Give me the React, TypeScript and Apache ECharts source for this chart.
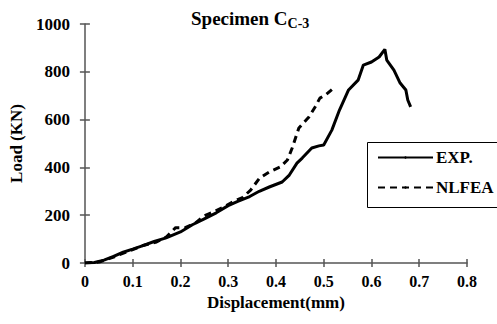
import React, { useEffect, useRef } from "react";
import * as echarts from "echarts";

const expX = [0, 0.02, 0.04, 0.06, 0.08, 0.1, 0.12, 0.145, 0.17, 0.2, 0.225, 0.25, 0.275, 0.3, 0.32, 0.345, 0.365, 0.386, 0.413, 0.428, 0.444, 0.455, 0.475, 0.49, 0.5, 0.517, 0.533, 0.552, 0.572, 0.583, 0.6, 0.616, 0.628, 0.632, 0.647, 0.66, 0.672, 0.676, 0.682];
const expY = [0, 2, 12, 28, 45, 58, 72, 90, 105, 130, 160, 185, 210, 240, 258, 278, 300, 318, 339, 368, 418, 439, 481, 490, 494, 556, 640, 724, 765, 828, 841, 862, 894, 849, 807, 753, 724, 682, 653];

const nlfeaX = [0, 0.03, 0.06, 0.09, 0.12, 0.15, 0.17, 0.19, 0.21, 0.23, 0.25, 0.27, 0.29, 0.31, 0.33, 0.347, 0.366, 0.386, 0.409, 0.424, 0.434, 0.448, 0.469, 0.482, 0.492, 0.505, 0.521];
const nlfeaY = [0, 4, 25, 48, 72, 88, 108, 148, 148, 165, 198, 214, 234, 256, 274, 305, 356, 381, 402, 431, 481, 565, 611, 653, 690, 705, 732];

const xTicks = [0, 0.8, 0.1];
const yTicks = [0, 1000, 200];

const FONT = "serif";

export default function App() {
  const ref = useRef<HTMLDivElement>(null);
  useEffect(() => {
    if (!ref.current) return;
    const chart = echarts.init(ref.current, undefined, { renderer: "svg" });
    const axisColor = "#555";
    const labelStyle = { fontFamily: FONT, fontWeight: "bold" as const, fontSize: 16, color: "#000" };
    chart.setOption({
      animation: false,
      title: {
        text: "{a|Specimen C}{b|C-3}",
        left: 191,
        top: 6,
        padding: 0,
        textStyle: {
          rich: {
            a: { fontFamily: FONT, fontWeight: "bold", fontSize: 19, color: "#000" },
            b: { fontFamily: FONT, fontWeight: "bold", fontSize: 14, color: "#000", padding: [10, 0, 0, 0] },
          },
        },
      },
      graphic: [
        {
          type: "rect",
          left: 365,
          top: 140,
          shape: { width: 131, height: 65 },
          style: { fill: "none", stroke: "#000", lineWidth: 1 },
          z: 10,
        },
      ],
      legend: {
        orient: "vertical",
        left: 366,
        top: 140,
        data: ["EXP.", "NLFEA"],
        itemWidth: 55,
        itemHeight: 3,
        itemGap: 13,
        padding: [9, 0, 9, 11],
        textStyle: { ...labelStyle, fontSize: 17, padding: [0, 0, 0, -2] },
      },
      grid: { left: 80, right: 30, top: 24, bottom: 61 },
      xAxis: [
        {
          type: "value",
          min: xTicks[0],
          max: xTicks[1],
          interval: xTicks[2],
          name: "Displacement(mm)",
          nameLocation: "middle",
          nameGap: 26,
          nameTextStyle: { ...labelStyle, fontSize: 17 },
          axisLine: { lineStyle: { color: axisColor, width: 1.5 } },
          axisTick: { show: true, inside: false, length: 4, lineStyle: { color: axisColor, width: 1.5 } },
          axisLabel: { ...labelStyle, margin: 10, formatter: (v: number) => String(Math.round(v * 10) / 10) },
          splitLine: { show: false },
        },
        {
          type: "value",
          min: xTicks[0],
          max: xTicks[1],
          interval: xTicks[2],
          position: "bottom",
          axisLine: { show: false },
          axisTick: { show: true, inside: true, length: 4, lineStyle: { color: axisColor, width: 1.5 } },
          axisLabel: { show: false },
          splitLine: { show: false },
        },
      ],
      yAxis: [
        {
          type: "value",
          min: yTicks[0],
          max: yTicks[1],
          interval: yTicks[2],
          name: "Load (KN)",
          nameLocation: "middle",
          nameGap: 56,
          nameTextStyle: { ...labelStyle, fontSize: 17 },
          axisLine: { show: true, lineStyle: { color: axisColor, width: 1.5 } },
          axisTick: { show: true, inside: false, length: 5, lineStyle: { color: axisColor, width: 1.5 } },
          axisLabel: { ...labelStyle, fontSize: 17, margin: 15, formatter: (v: number) => String(v) },
          splitLine: { show: false },
        },
        {
          type: "value",
          min: yTicks[0],
          max: yTicks[1],
          interval: yTicks[2],
          position: "left",
          axisLine: { show: false },
          axisTick: { show: true, inside: true, length: 5, lineStyle: { color: axisColor, width: 1.5 } },
          axisLabel: { show: false },
          splitLine: { show: false },
        },
      ],
      series: [
        {
          name: "EXP.",
          type: "line",
          data: expX.map((x, i) => [x, expY[i]]),
          showSymbol: false,
          symbol: "none",
          lineStyle: { color: "#000", width: 3 },
          itemStyle: { color: "#000" },
        },
        {
          name: "NLFEA",
          type: "line",
          data: nlfeaX.map((x, i) => [x, nlfeaY[i]]),
          showSymbol: false,
          symbol: "none",
          lineStyle: { color: "#000", width: 3, type: [7, 5] },
          itemStyle: { color: "#000" },
        },
      ],
    });
    return () => chart.dispose();
  }, []);
  return <div ref={ref} style={{ position: "absolute", left: 0, top: 0, width: 497, height: 324, overflow: "hidden" }} />;
}
